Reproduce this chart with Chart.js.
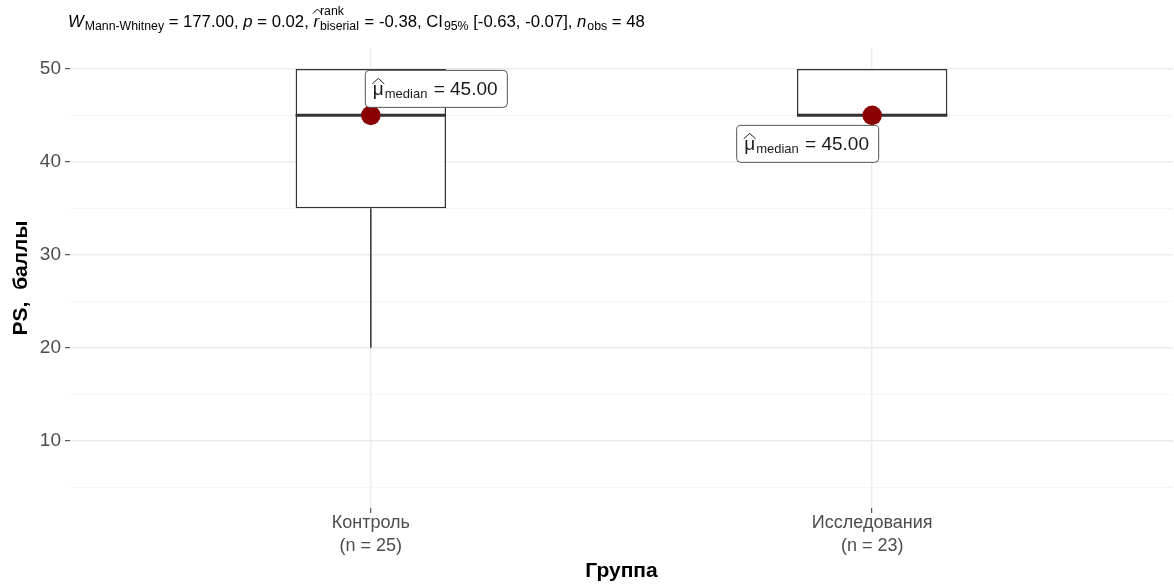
<!DOCTYPE html>
<html>
<head>
<meta charset="utf-8">
<script src="https://cdn.jsdelivr.net/npm/chart.js@4.4.1/dist/chart.umd.min.js"></script>
<style>
  html, body { margin: 0; padding: 0; background: #ffffff; overflow: hidden; }
  #wrap { width: 1174px; height: 585px; position: relative; overflow: hidden; }
  #c { display: block; width: 1174px; height: 585px; }
</style>
</head>
<body>
<div id="wrap"><canvas id="c" width="1174" height="585"></canvas></div>
<script>
// Groups and their box-plot summaries (PS, баллы)
const groups = ['Контроль', 'Исследования'];
const groupN = [25, 23];
const groupPos = [1, 2];
const whiskerLow = [20, 45];
const q1 = [35, 45];
const median = [45, 45];
const q3 = [50, 50];
const whiskerHigh = [50, 50];

// Axis ticks and limits
const yMajorTicks = [10, 20, 30, 40, 50];
const yMinorTicks = [5, 15, 25, 35, 45];
const yLimits = [2.75, 52.25];
const xLimits = [0.4, 2.6];

// Test statistics shown above the panel
const statW = 177.00;
const statP = 0.02;
const statR = -0.38;
const statCI = [-0.63, -0.07];
const statN = 48;

const FONT = "'Liberation Sans', Arial, Helvetica, sans-serif";
const BOX_HALF = 0.15;               // half box width in x units
const LABEL_OFFSETS = [[-6, -45.5], [-136, 9.5]]; // label box corner relative to the median point (px)

// median line segments, one per group
const medianSegs = [];
groupPos.forEach((x, i) => {
  medianSegs.push({ x: x - BOX_HALF, y: median[i] }, { x: x + BOX_HALF, y: median[i] }, { x: x + BOX_HALF, y: null });
});
// whisker segments (only where the whisker extends beyond the box)
const whiskerSegs = [];
groupPos.forEach((x, i) => {
  if (whiskerLow[i] < q1[i]) whiskerSegs.push({ x, y: whiskerLow[i] }, { x, y: q1[i] }, { x, y: null });
  if (whiskerHigh[i] > q3[i]) whiskerSegs.push({ x, y: q3[i] }, { x, y: whiskerHigh[i] }, { x, y: null });
});

const fmt2 = v => v.toFixed(2);

// Subtitle with sub/superscripts
const subtitlePlugin = {
  id: 'statSubtitle',
  afterDraw(chart) {
    const ctx = chart.ctx;
    const main = 16.7, small = 12.3;
    const base = 26.5;
    const eq = v => ' = ' + v;
    const parts = [
      { t: 'W', it: true },
      { t: 'Mann-Whitney', sub: true },
      { t: eq(fmt2(statW)) + ', ' },
      { t: 'p', it: true },
      { t: eq(fmt2(statP)) + ', ' },
      { t: 'r', it: true, hat: true },
      { sup: 'rank', sub2: 'biserial' },
      { t: eq(fmt2(statR)) + ', CI' },
      { t: '95%', sub: true },
      { t: ' [' + fmt2(statCI[0]) + ', ' + fmt2(statCI[1]) + '], ' },
      { t: 'n', it: true },
      { t: 'obs', sub: true },
      { t: eq(String(statN)) }
    ];
    let x = chart.chartArea.left - 2;
    ctx.save();
    ctx.fillStyle = '#000';
    ctx.strokeStyle = '#000';
    ctx.textBaseline = 'alphabetic';
    ctx.textAlign = 'left';
    for (const p of parts) {
      if (p.sup !== undefined) {
        ctx.font = small + 'px ' + FONT;
        const w1 = ctx.measureText(p.sup).width;
        const w2 = ctx.measureText(p.sub2).width;
        ctx.fillText(p.sup, x + 1, base - 11.5);
        ctx.fillText(p.sub2, x + 1, base + 3.5);
        x += Math.max(w1, w2) + 2;
        continue;
      }
      if (p.sub) {
        ctx.font = small + 'px ' + FONT;
        ctx.fillText(p.t, x + 1, base + 3.5);
        x += ctx.measureText(p.t).width + 1;
        continue;
      }
      ctx.font = (p.it ? 'italic ' : '') + main + 'px ' + FONT;
      ctx.fillText(p.t, x, base);
      const w = ctx.measureText(p.t).width;
      if (p.hat) {
        ctx.lineWidth = 1;
        ctx.beginPath();
        ctx.moveTo(x - 0.5, base - 13);
        ctx.lineTo(x + 4, base - 17.5);
        ctx.lineTo(x + 8.5, base - 13);
        ctx.stroke();
      }
      x += w;
    }
    ctx.restore();
  }
};

// Median labels: boxed "μ̂_median = value"
const medianLabelPlugin = {
  id: 'medianLabels',
  afterDatasetsDraw(chart) {
    const ctx = chart.ctx;
    const xs = chart.scales.x, ys = chart.scales.y;
    ctx.save();
    groupPos.forEach((gx, i) => {
      const px = xs.getPixelForValue(gx);
      const py = ys.getPixelForValue(median[i]);
      const left = px + LABEL_OFFSETS[i][0];
      const top = py + LABEL_OFFSETS[i][1];
      const w = 142, h = 37;
      ctx.beginPath();
      ctx.roundRect(left + 0.5, top + 0.5, w, h, 4);
      ctx.fillStyle = '#ffffff';
      ctx.fill();
      ctx.lineWidth = 1;
      ctx.strokeStyle = '#555555';
      ctx.stroke();

      ctx.fillStyle = '#1a1a1a';
      ctx.strokeStyle = '#1a1a1a';
      ctx.textBaseline = 'alphabetic';
      let x = left + 8;
      ctx.font = '19px ' + FONT;
      ctx.fillText('μ', x, top + 25);
      const mw = ctx.measureText('μ').width;
      ctx.beginPath();
      ctx.lineWidth = 1;
      ctx.moveTo(x - 0.5, top + 14);
      ctx.lineTo(x + mw / 2, top + 8.5);
      ctx.lineTo(x + mw + 0.5, top + 14);
      ctx.stroke();
      x += mw + 1;
      ctx.font = '13px ' + FONT;
      ctx.fillText('median', x, top + 28.5);
      x += ctx.measureText('median').width + 1;
      ctx.font = '19px ' + FONT;
      ctx.fillText(' = ' + fmt2(median[i]), x, top + 25);
    });
    ctx.restore();
  }
};

const isMajor = ctx => ctx && ctx.tick && yMajorTicks.includes(ctx.tick.value);

new Chart(document.getElementById('c'), {
  type: 'bar',
  data: {
    datasets: [
      {
        type: 'scatter',
        data: groupPos.map((x, i) => ({ x, y: median[i] })),
        pointRadius: 9.8,
        pointBackgroundColor: '#8B0000',
        pointBorderWidth: 0,
        order: 0
      },
      {
        type: 'line',
        data: medianSegs,
        borderColor: '#333333',
        borderWidth: 3,
        pointRadius: 0,
        spanGaps: false,
        borderCapStyle: 'butt',
        order: 1
      },
      {
        type: 'line',
        data: whiskerSegs,
        borderColor: '#333333',
        borderWidth: 1.5,
        pointRadius: 0,
        spanGaps: false,
        order: 2
      },
      {
        type: 'bar',
        data: groupPos.map((x, i) => ({ x, y: [q1[i], q3[i]] })),
        backgroundColor: '#ffffff',
        borderColor: '#333333',
        borderWidth: 1.5,
        borderSkipped: false,
        categoryPercentage: 1,
        barPercentage: 2 * BOX_HALF,
        grouped: false,
        order: 3
      }
    ]
  },
  options: {
    responsive: false,
    maintainAspectRatio: false,
    animation: false,
    devicePixelRatio: 1,
    layout: { autoPadding: false, padding: { left: 0, right: 1, top: 48, bottom: 0 } },
    plugins: { legend: { display: false }, tooltip: { enabled: false } },
    scales: {
      x: {
        type: 'linear',
        min: xLimits[0],
        max: xLimits[1],
        offset: false,
        afterBuildTicks: s => { s.ticks = groupPos.map(v => ({ value: v })); },
        afterFit: s => { s.height = 77; s.paddingLeft = 0; s.paddingRight = 0; },
        ticks: {
          autoSkip: false,
          maxRotation: 0,
          padding: -2,
          color: '#4D4D4D',
          font: { family: FONT, size: 18, lineHeight: 1.3 },
          callback: (v) => {
            const i = groupPos.indexOf(v);
            return i < 0 ? '' : [groups[i], '(n = ' + groupN[i] + ')'];
          }
        },
        grid: {
          offset: false,
          color: '#EBEBEB',
          lineWidth: 1.4,
          drawTicks: true,
          tickLength: 5,
          tickColor: '#333333',
          tickWidth: 1
        },
        border: { display: false },
        title: {
          display: true,
          text: 'Группа',
          color: '#000000',
          font: { family: FONT, size: 21, weight: 'bold' },
          padding: { top: 0, bottom: 1 }
        }
      },
      y: {
        type: 'linear',
        min: yLimits[0],
        max: yLimits[1],
        afterBuildTicks: s => {
          s.ticks = [...yMinorTicks, ...yMajorTicks].sort((a, b) => a - b).map(v => ({ value: v }));
        },
        afterFit: s => { s.width = 70; },
        ticks: {
          autoSkip: false,
          padding: 4,
          color: '#4D4D4D',
          font: { family: FONT, size: 19 },
          callback: v => (yMajorTicks.includes(v) ? String(v) : '')
        },
        grid: {
          color: ctx => (isMajor(ctx) ? '#EBEBEB' : '#F3F3F3'),
          lineWidth: ctx => (isMajor(ctx) ? 1.4 : 0.9),
          drawTicks: true,
          tickLength: 5,
          tickColor: ctx => (isMajor(ctx) ? '#333333' : 'rgba(0,0,0,0)'),
          tickWidth: 1
        },
        border: { display: false },
        title: {
          display: true,
          text: 'PS,  баллы',
          color: '#000000',
          font: { family: FONT, size: 21, weight: 'bold' },
          padding: { top: 9, bottom: 0 }
        }
      }
    }
  },
  plugins: [subtitlePlugin, medianLabelPlugin]
});
</script>
</body>
</html>
